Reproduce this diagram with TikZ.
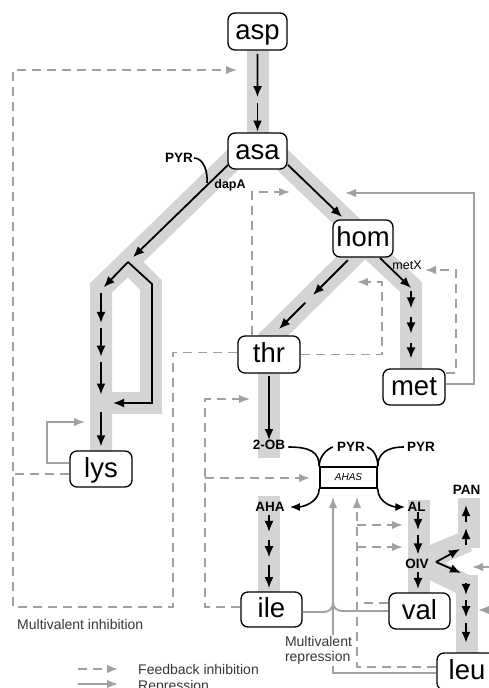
\documentclass[tikz,border=0pt]{standalone}
\usepackage{fontspec}
\setmainfont{Liberation Sans}
\usetikzlibrary{arrows.meta,calc}
\definecolor{bandgray}{RGB}{212,212,212}
\definecolor{fbgray}{RGB}{160,160,160}
\definecolor{txtgray}{RGB}{55,55,55}
\newcommand\stepar[4]{\draw[blk] ($(#1)!#3!(#2)$) -- ($(#1)!#4!(#2)$);}
\begin{document}
\begin{tikzpicture}[x=1pt,y=-1pt,
  metab/.style={draw=black, line width=1.3pt, fill=white, rounded corners=7pt, inner sep=0pt,
    text height=18pt, text depth=2pt, font=\fontsize{27.5}{30}\selectfont},
  lbl/.style={inner sep=0pt, font=\fontsize{13.5}{15}\selectfont\bfseries},
  band/.style={draw=bandgray, line width=22pt, line join=miter, line cap=butt},
  blk/.style={draw=black, line width=1.8pt, line join=miter, -{Latex[length=11pt,width=9pt]}},
  curv/.style={draw=black, line width=1.6pt},
  fb/.style={draw=fbgray, line width=1.8pt, dash pattern=on 9pt off 6pt, -{Latex[length=11pt,width=8.5pt]}},
  rep/.style={draw=fbgray, line width=1.8pt, -{Latex[length=11pt,width=8.5pt]}},
  fbline/.style={draw=fbgray, line width=1.8pt, dash pattern=on 9pt off 6pt},
  repline/.style={draw=fbgray, line width=1.8pt},
  note/.style={inner sep=0pt, text=txtgray, font=\fontsize{14}{15}\selectfont},
]
\useasboundingbox (0,0) rectangle (489,688);

% ---------- pathway bands ----------
\coordinate (Pk) at (128,262);
\draw[band] (258,45) -- (258,140);
\draw[band] (245,148) -- (101,288) -- (101,460);
\draw[band] (Pk) -- (151,285) -- (151,403) -- (101,403);
\draw[band] (270,148) -- (363,237);
\draw[band] (363,246) -- (266,342);
\draw[band] (365,244) -- (411,287) -- (411,372);
\draw[band] (269,370) -- (269,458);
\draw[band] (268.5,496) -- (268.5,595);
\draw[band] (418.5,500) -- (418.5,595);
\draw[band] (468.5,498) -- (468.5,548);
\draw[band] (418,562) -- (468,541);
\draw[band] (418,562) -- (466.5,586);
\draw[band] (466.5,575) -- (466.5,660);

% ---------- metabolite nodes ----------
\node[metab, minimum width=59pt, minimum height=37pt] (asp) at (257.5,31.5) {asp};
\node[metab, minimum width=59pt, minimum height=36pt] (asa) at (257.5,151) {asa};
\node[metab, minimum width=60pt, minimum height=37pt] (hom) at (363,238.5) {hom};
\node[metab, minimum width=62pt, minimum height=37pt] (thr) at (269,354.5) {thr};
\node[metab, minimum width=62pt, minimum height=36pt] (met) at (414,387) {met};
\node[metab, minimum width=62pt, minimum height=36pt] (lys) at (101,469) {lys};
\node[metab, minimum width=61pt, minimum height=35pt] (ile) at (271.5,609.5) {ile};
\node[metab, minimum width=61pt, minimum height=36pt] (val) at (419.5,611) {val};
\node[metab, minimum width=60pt, minimum height=37pt] (leu) at (467,671.5) {leu};

% ---------- small labels ----------
\node[lbl] (pyr0) at (179,158) {PYR};
\node[lbl, font=\fontsize{12.5}{14}\selectfont\bfseries] (dapa) at (230,185) {dapA};
\node[lbl, font=\fontsize{12.5}{14}\selectfont] (metx) at (407,265) {metX};
\node[lbl] (ob) at (269,445) {2-OB};
\node[lbl] (pyr1) at (351,447) {PYR};
\node[lbl] (pyr2) at (421,447) {PYR};
\node[lbl] (aha) at (270,507) {AHA};
\node[lbl] (al) at (416.5,507) {AL};
\node[lbl] (oiv) at (417,564) {OIV};
\node[lbl] (pan) at (466.5,490) {PAN};
\node[draw=black, line width=1.6pt, minimum width=57pt, minimum height=21pt, inner sep=0pt,
      font=\fontsize{10}{12}\selectfont\itshape] (ahas) at (348.5,477.5) {AHAS};

% ---------- pathway arrows ----------
\stepar{asp.south}{asa.north}{0.04}{0.57}
\stepar{asp.south}{asa.north}{0.64}{0.99}

\coordinate (A1) at (228,165);
\draw[blk] (A1) -- ($(A1)!0.95!(Pk)$);
\coordinate (L0) at (101,290);
\draw[blk] (Pk) -- ($(Pk)!0.9!(L0)$);
\stepar{L0}{lys.north}{0.02}{0.205}
\stepar{L0}{lys.north}{0.236}{0.416}
\stepar{L0}{lys.north}{0.447}{0.652}
\stepar{L0}{lys.north}{0.758}{0.975}
\coordinate (R1) at (152,284);
\coordinate (R2) at (152,403);
\coordinate (R3) at (113,403);
\draw[blk] (Pk) -- (R1) -- (R2) -- (R3);
\coordinate (dapJ) at (207,183);
\draw[curv] ([xshift=1pt]pyr0.east) .. controls +(10,0) and +(1,-10) .. (dapJ);

\coordinate (B1) at (288,165);
\coordinate (B2) at (342,217);
\draw[blk] (B1) -- (B2);

\coordinate (H1) at (350,258);
\coordinate (T1) at (279,329);
\stepar{H1}{T1}{0.03}{0.52}
\stepar{H1}{T1}{0.63}{1}

\coordinate (C1) at (380,258);
\coordinate (M0) at (411,288);
\coordinate (M1) at (411,369);
\draw[blk] (C1) -- (M0);
\stepar{M0}{M1}{0.04}{0.25}
\stepar{M0}{M1}{0.36}{0.56}
\stepar{M0}{M1}{0.68}{0.87}

\draw[blk, shorten <=2pt] (thr.south) -- (ob.north);

% AHAS junction
\draw[curv] ([xshift=3pt,yshift=-2pt]ob.east) .. controls +(22,0) and +(0,-14) .. (ahas.north west);
\draw[curv] ([xshift=-4pt]pyr1.west) .. controls +(-6,2) and +(0,-10) .. (ahas.north west);
\draw[curv] ([xshift=2pt]pyr1.east) .. controls +(6,2) and +(0,-10) .. (ahas.north east);
\draw[curv] ([xshift=-3pt]pyr2.west) .. controls +(-18,0) and +(0,-12) .. (ahas.north east);
\draw[curv, -{Latex[length=10pt,width=8pt]}] (ahas.south west) .. controls +(0,14) and +(12,0) .. ([xshift=5pt]aha.east);
\draw[curv, -{Latex[length=10pt,width=8pt]}] (ahas.south east) .. controls +(0,14) and +(-12,0) .. ([xshift=-2pt]al.west);

\coordinate (D0) at (269,513);
\coordinate (D1) at (269,592);
\stepar{D0}{D1}{0.025}{0.24}
\stepar{D0}{D1}{0.34}{0.56}
\stepar{D0}{D1}{0.66}{0.95}

\coordinate (E0) at (418,511);
\coordinate (E1) at (418,593);
\stepar{E0}{E1}{0.01}{0.23}
\stepar{E0}{E1}{0.29}{0.53}
\stepar{E0}{E1}{0.74}{0.95}

\coordinate (O0) at (436,562);
\coordinate (O1) at (460,549);
\coordinate (O2) at (461,573);
\draw[blk] (O0) -- (O1);
\draw[blk] (O0) -- (O2);

\coordinate (P0) at (466,548);
\coordinate (P1) at (466,498);
\stepar{P0}{P1}{0.06}{0.4}
\stepar{P0}{P1}{0.52}{0.86}

\coordinate (Q0) at (466,580);
\coordinate (Q1) at (466,653);
\stepar{Q0}{Q1}{0.04}{0.205}
\stepar{Q0}{Q1}{0.27}{0.51}
\stepar{Q0}{Q1}{0.59}{0.86}

% ---------- regulation targets ----------
\coordinate (tAsp) at (237,70);
\coordinate (tAsaHomI) at (290,192);
\coordinate (tAsaHomR) at (345,193);
\coordinate (tHomThr) at (357,282);
\coordinate (tMetX) at (425,270);
\coordinate (tLysR) at (85,422);
\coordinate (tThrOB) at (250,399);
\coordinate (tAhasL) at (310,478);
\coordinate (tAhasR) at (333,497);
\coordinate (tAhasI) at (357,497);
\coordinate (tAL1) at (403,525);
\coordinate (tAL2) at (403,547);

% multivalent inhibition (thr + lys)
\draw[fb] ([yshift=2pt]thr.west) -| (173,607) -| (13,70) -- (tAsp);
\draw[fbline] ([yshift=-5pt]lys.west) -- (13,474);
\draw[rep] ([yshift=6pt]lys.west) -| (47,422) -- (tLysR);

% thr feedback
\draw[fb] ([xshift=-17pt]thr.north) |- (tAsaHomI);
\draw[fb] (thr.east) -| (382,282) -- (tHomThr);

% met regulation
\draw[fb] ([yshift=14pt]met.east) -| (456,270) -- (tMetX);
\draw[rep] ([yshift=3pt]met.east) -| (474,193) -- (tAsaHomR);

% ile feedback
\draw[fb] ([yshift=2.5pt]ile.west) -| (205,399) -- (tThrOB);
\coordinate (ileJ) at (205,478);
\draw[fb] (ileJ) -- (tAhasL);

% multivalent repression (ile, val, leu)
\draw[rep] ([yshift=-1.5pt]leu.west) -| (tAhasR);
\draw[repline] ([yshift=-2.5pt]ile.east) -- (322,612) .. controls (330,612) and (333,609) .. (333,601);
\draw[repline] (val.west) -- (344,611) .. controls (336,611) and (333,608) .. (333,601);

% val / leu feedback
\draw[fb] ([yshift=4.5pt]leu.west) -| (tAhasI);
\draw[fbline] ([yshift=8pt]val.west) -- (357,603);
\coordinate (vJ1) at (357,525);
\coordinate (vJ2) at (357,547);
\draw[fb] (vJ1) -- (tAL1);
\draw[fb] (vJ2) -- (tAL2);

% repression arrows entering from the right edge
\coordinate (xR1) at (500,567);
\coordinate (xR2) at (500,610);
\draw[rep] (xR1) -- (472,567);
\draw[rep] (xR2) -- (478,610);

% ---------- texts ----------
\node[note, fill=white, inner sep=1pt, align=left] (mvr) at (318.5,650.5) {Multivalent\\repression};
\node[note, anchor=west] (mvi) at (17,624) {Multivalent inhibition};

% legend
\coordinate (lgA) at (78,669);
\coordinate (lgB) at (118,669);
\coordinate (lgC) at (78,684);
\coordinate (lgD) at (118,684);
\draw[fb] (lgA) -- (lgB);
\draw[rep] (lgC) -- (lgD);
\node[note, anchor=west] (lg1) at (138,669.5) {Feedback inhibition};
\node[note, anchor=west] (lg2) at (138,686.5) {Repression};
\end{tikzpicture}
\end{document}
